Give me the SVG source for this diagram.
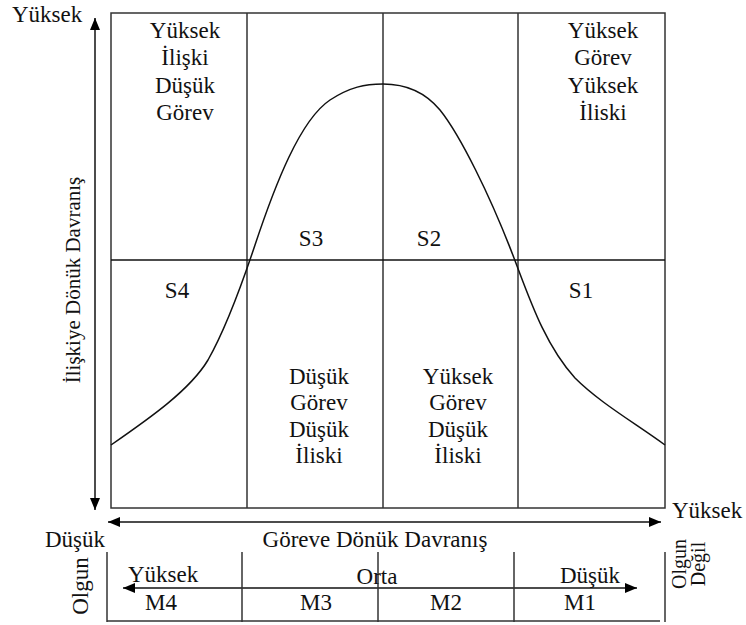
<svg xmlns="http://www.w3.org/2000/svg" width="746" height="625" viewBox="0 0 746 625">
<style>
text{font-family:"Liberation Serif","Times New Roman",serif;font-size:23px;fill:#111}
.m{text-anchor:middle}
.ln{stroke:#333;stroke-width:1.5;fill:none}
.ax{stroke:#111;stroke-width:1.5;fill:none}
.sm{font-size:20px}
.vl{font-size:21px}
</style>
<defs>
<marker id="ah" markerUnits="userSpaceOnUse" markerWidth="12" markerHeight="10" refX="12" refY="5" orient="auto-start-reverse">
<path d="M0,0 L12,5 L0,10 z" fill="#000"/>
</marker>
</defs>
<g id="grid">
<rect class="ln" x="111" y="13" width="554" height="495"/>
<line class="ln" x1="247" y1="13" x2="247" y2="508"/>
<line class="ln" x1="383" y1="13" x2="383" y2="508"/>
<line class="ln" x1="518" y1="13" x2="518" y2="508"/>
<line class="ax" x1="111" y1="260" x2="665" y2="260"/>
</g>
<g id="curve">
<path class="ax" d="M111,445 C150,418 190,390 208,360 C225,330 240,290 255,245 C275,185 300,120 330,100 C350,87 365,84 383,84 C405,84 425,92 440,110 C460,135 490,195 514,258 C530,300 545,345 575,378 C600,403 635,423 665,445"/>
</g>
<g id="connectors">
<line class="ax" x1="95" y1="18" x2="95" y2="510" marker-start="url(#ah)" marker-end="url(#ah)"/>
<line class="ax" x1="108" y1="522" x2="661" y2="522" marker-start="url(#ah)" marker-end="url(#ah)"/>
<line class="ax" x1="123" y1="588" x2="637" y2="588" marker-start="url(#ah)" marker-end="url(#ah)"/>
</g>
<g id="table">
<line class="ln" x1="107" y1="552" x2="107" y2="622"/>
<line class="ln" x1="242" y1="552" x2="242" y2="622"/>
<line class="ln" x1="378" y1="552" x2="378" y2="622"/>
<line class="ln" x1="514" y1="552" x2="514" y2="622"/>
<line class="ln" x1="665" y1="552" x2="665" y2="622"/>
<line class="ln" x1="107" y1="621" x2="660" y2="621"/>
</g>
<g id="cell-tl">
<text class="m" x="185" y="38">Yüksek</text>
<text class="m" x="185" y="65">İlişki</text>
<text class="m" x="185" y="93">Düşük</text>
<text class="m" x="185" y="120">Görev</text>
</g>
<g id="cell-tr">
<text class="m" x="603" y="38">Yüksek</text>
<text class="m" x="603" y="65">Görev</text>
<text class="m" x="603" y="93">Yüksek</text>
<text class="m" x="603" y="120">İliski</text>
</g>
<g id="cell-bl">
<text class="m" x="319" y="384">Düşük</text>
<text class="m" x="319" y="410">Görev</text>
<text class="m" x="319" y="437">Düşük</text>
<text class="m" x="319" y="463">İliski</text>
</g>
<g id="cell-br">
<text class="m" x="458" y="384">Yüksek</text>
<text class="m" x="458" y="410">Görev</text>
<text class="m" x="458" y="437">Düşük</text>
<text class="m" x="458" y="463">İliski</text>
</g>
<g id="styles">
<text class="m" x="311" y="246">S3</text>
<text class="m" x="429" y="246">S2</text>
<text class="m" x="177" y="298">S4</text>
<text class="m" x="581" y="298">S1</text>
</g>
<g id="axis-labels">
<text x="12" y="22">Yüksek</text>
<text class="m vl" transform="translate(80,280) rotate(-90)">İlişkiye Dönük Davranış</text>
<text x="45" y="547">Düşük</text>
<text class="m" x="375" y="547">Göreve Dönük Davranış</text>
<text x="672" y="518">Yüksek</text>
</g>
<g id="maturity">
<text x="128" y="582">Yüksek</text>
<text class="m" x="377" y="584">Orta</text>
<text x="560" y="583">Düşük</text>
<text class="m" x="161" y="610">M4</text>
<text class="m" x="316" y="610">M3</text>
<text class="m" x="446" y="610">M2</text>
<text class="m" x="580" y="610">M1</text>
<text class="m" transform="translate(88,586) rotate(-90)">Olgun</text>
<text class="m sm" transform="translate(686,564) rotate(-90)">Olgun</text>
<text class="m sm" transform="translate(705,564) rotate(-90)">Değil</text>
</g>
</svg>
